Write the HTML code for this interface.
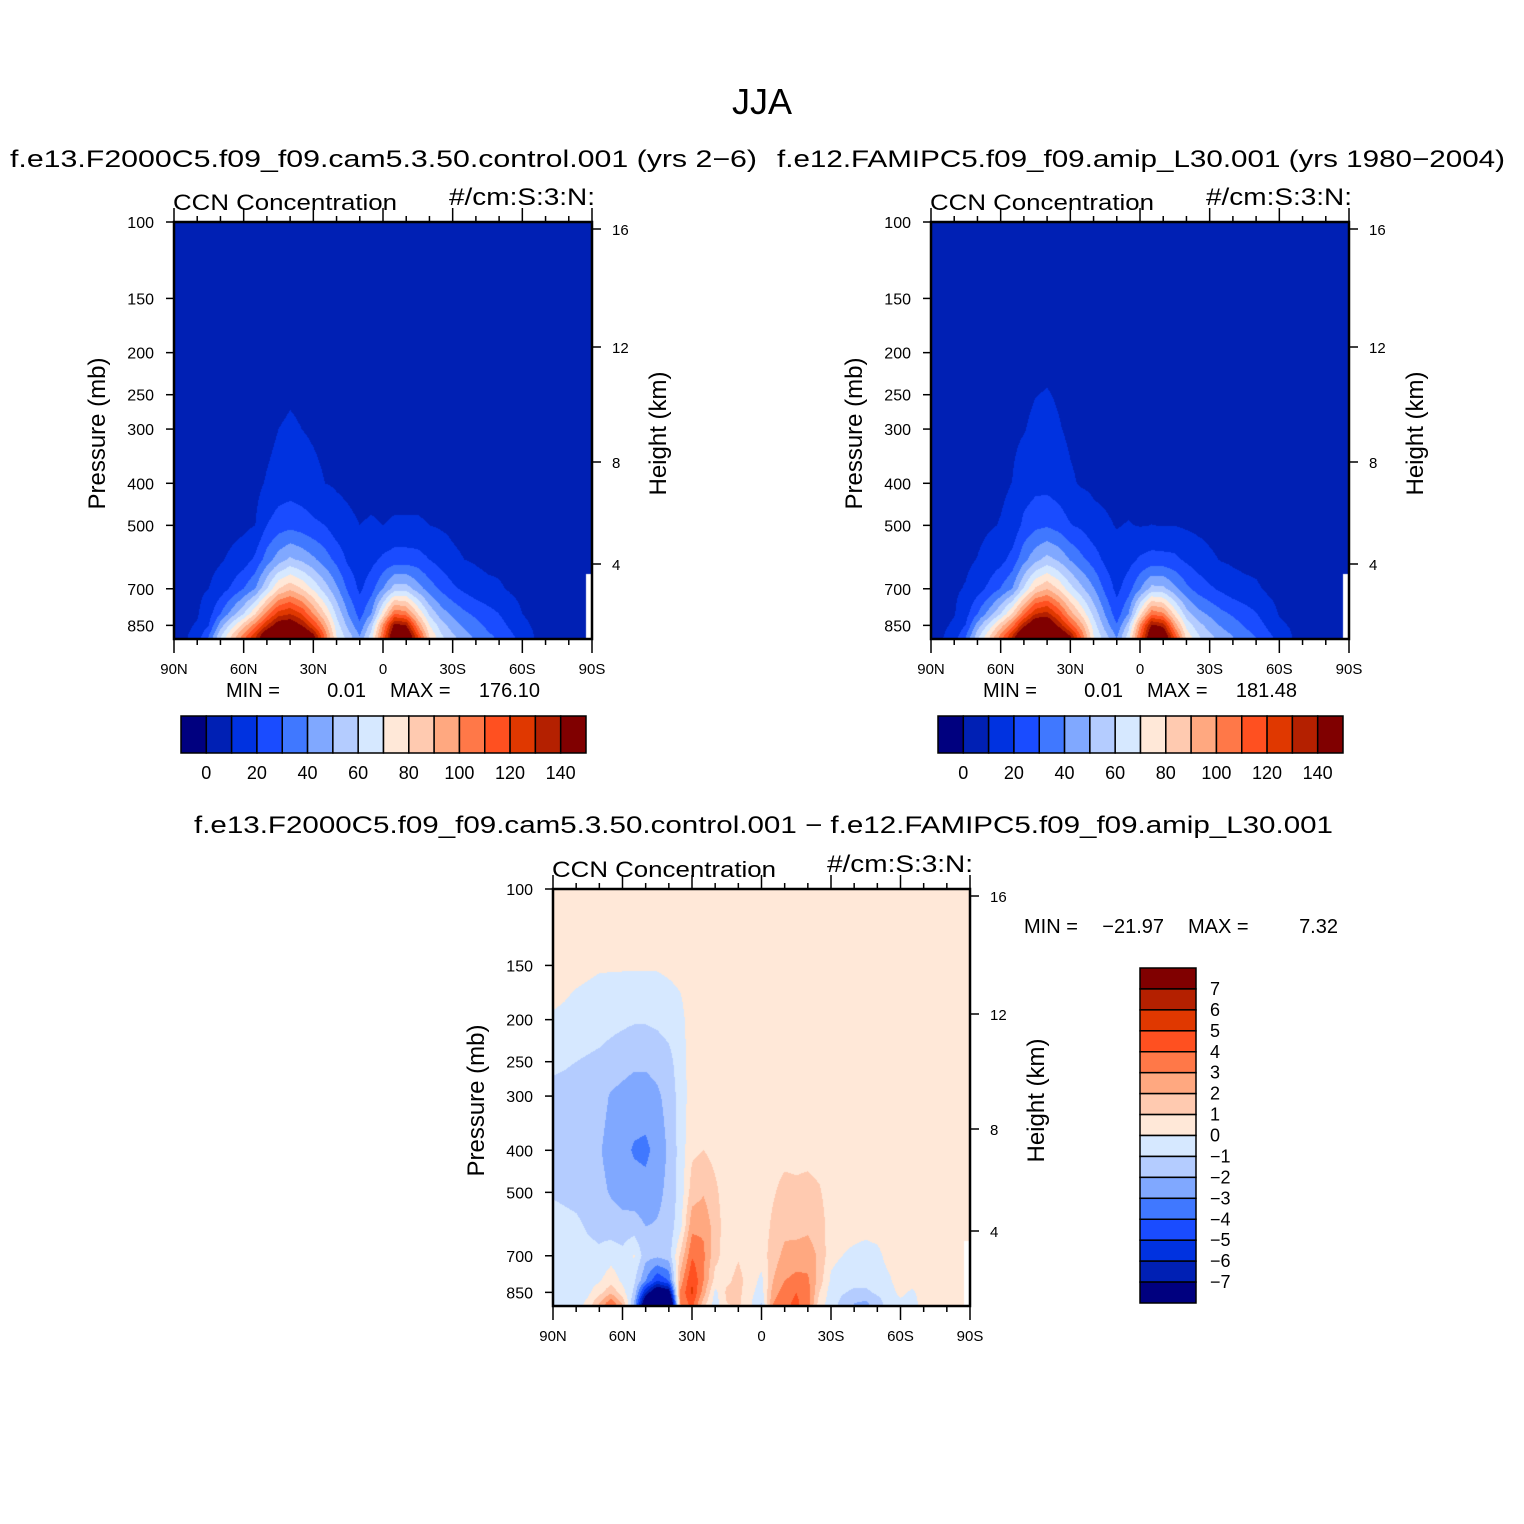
<!DOCTYPE html>
<html><head><meta charset="utf-8">
<style>
html,body{margin:0;padding:0;background:#fff;}
#wrap{position:relative;width:1524px;height:1524px;overflow:hidden;background:#fff;}
canvas{position:absolute;}
svg{position:absolute;left:0;top:0;}
text{font-family:"Liberation Sans",sans-serif;fill:#000;}
</style></head>
<body>
<div id="wrap">
<canvas id="cA" width="418" height="417" style="left:174px;top:222px"></canvas>
<canvas id="cB" width="418" height="417" style="left:931px;top:222px"></canvas>
<canvas id="cD" width="417" height="417" style="left:553px;top:889px"></canvas>
<svg id="svg" width="1524" height="1524" xmlns="http://www.w3.org/2000/svg">
<text x="762" y="114" font-size="36" text-anchor="middle">JJA</text>
<text x="10" y="167" font-size="24" textLength="747" lengthAdjust="spacingAndGlyphs">f.e13.F2000C5.f09_f09.cam5.3.50.control.001 (yrs 2−6)</text>
<text x="777" y="167" font-size="24" textLength="728" lengthAdjust="spacingAndGlyphs">f.e12.FAMIPC5.f09_f09.amip_L30.001 (yrs 1980−2004)</text>
<text x="194" y="833" font-size="24" textLength="1139" lengthAdjust="spacingAndGlyphs">f.e13.F2000C5.f09_f09.cam5.3.50.control.001 − f.e12.FAMIPC5.f09_f09.amip_L30.001</text>
<g id="axes"></g>
</svg>
</div>
<script>
// ---------- data ----------
const lats = [90,85,80,75,70,65,60,55,50,45,40,35,30,25,20,15,10,5,0,-5,-10,-15,-20,-25,-30,-35,-40,-45,-50,-55,-60,-65,-70,-75,-80,-85,-90];
const ctlLevels = [100,200,300,400,500,600,700,800,850,900,950];
// control CCN (#/cm3), one row per latitude, values at ctlLevels
const ctlField = [
[5,5,5,5,5,5,5,6,7,8,8],
[5,5,5,5,5,5,6,7,8,9,10],
[5,5,5,5,5,6,8,9,11,14,16],
[5,5,5,5,6,7,10,16,20,30,35],
[5,5,5,5,6,9,15,30,45,58,62],
[5,5,5,6,7,12,22,45,65,82,88],
[5,5,5,6,8,15,30,60,85,105,110],
[5,5,6,7,10,22,40,80,105,128,132],
[5,5,7,11,20,35,60,105,130,158,162],
[5,6,10,14,25,45,80,125,150,172,175],
[5,7,11,15,27,52,88,130,152,172,176],
[5,7,10,14,25,48,80,120,140,165,168],
[5,6,9,12,22,42,68,100,120,145,150],
[5,5,8,10,20,35,55,80,95,108,110],
[5,5,7,9,14,27,42,58,65,70,70],
[5,5,6,8,12,18,28,40,47,55,58],
[5,5,6,7,10,14,18,26,32,40,42],
[5,5,5,7,11,17,26,40,55,65,68],
[5,5,5,7,10,22,40,75,100,110,112],
[5,5,5,7,11,25,55,110,145,160,162],
[5,5,5,7,11,25,55,105,140,162,165],
[5,5,5,7,11,24,45,80,100,120,122],
[5,5,5,7,10,20,35,58,70,80,82],
[5,5,5,6,9,16,28,45,55,62,64],
[5,5,5,6,8,12,22,38,45,52,54],
[5,5,5,6,7,10,18,32,38,44,45],
[5,5,5,5,7,9,14,28,33,38,40],
[5,5,5,5,6,8,12,24,28,32,34],
[5,5,5,5,6,8,11,20,24,28,30],
[5,5,5,5,6,7,9,14,18,22,24],
[5,5,5,5,5,6,8,10,12,16,18],
[5,5,5,5,5,6,7,8,9,10,10],
[5,5,5,5,5,5,5,6,6,6,6],
[5,5,5,5,5,5,5,5,5,5,5],
[5,5,5,5,5,5,5,5,5,5,5],
[5,5,5,5,5,5,5,5,5,5,5],
[5,5,5,5,5,5,NaN,NaN,NaN,NaN,NaN]
];
const diffLevels = [100,150,200,250,300,400,500,600,700,800,850,900,950];
// control minus amip difference, one row per latitude, values at diffLevels
const diffField = [
[0.5,0.5,-0.1,-0.8,-1.3,-1.5,-1.1,-0.6,-0.5,-0.5,-0.5,-0.5,-0.5],
[0.5,0.4,-0.2,-0.9,-1.3,-1.6,-1.2,-0.7,-0.5,-0.5,-0.5,-0.5,-0.5],
[0.5,0.3,-0.4,-1.0,-1.4,-1.7,-1.3,-0.8,-0.6,-0.4,-0.4,-0.4,-0.4],
[0.5,0.2,-0.5,-1.1,-1.5,-1.8,-1.5,-1.1,-0.7,-0.4,-0.2,0.2,0.5],
[0.5,0.1,-0.6,-1.2,-1.6,-1.9,-1.7,-1.3,-0.8,-0.1,0.6,2.0,2.8],
[0.5,0.1,-0.7,-1.4,-2.1,-2.4,-2.1,-1.5,-0.4,0.6,1.8,3.8,5.2],
[0.5,0.1,-0.8,-1.6,-2.3,-2.7,-2.4,-1.6,-0.7,-0.2,0.4,1.8,2.8],
[0.5,0.1,-0.9,-1.8,-2.5,-3.1,-2.6,-1.5,0.1,-0.8,-1.2,-2.0,-3.0],
[0.5,0.1,-0.9,-1.8,-2.5,-3.2,-2.7,-2.0,-1.6,-3.0,-6.0,-9.0,-10],
[0.5,0.1,-0.8,-1.6,-2.2,-2.7,-2.3,-1.9,-1.8,-5.0,-9.0,-14,-15],
[0.5,0.2,-0.6,-1.3,-1.6,-1.8,-1.7,-1.6,-1.5,-4.0,-8.0,-12,-12],
[0.5,0.3,-0.3,-0.5,-0.6,-0.6,-0.6,-0.3,1.2,2.5,3.2,3.0,2.8],
[0.5,0.5,0.5,0.5,0.5,0.8,1.5,2.7,3.9,5.0,5.2,4.5,4.0],
[0.5,0.5,0.5,0.5,0.5,1.0,1.9,2.8,3.2,3.0,2.5,1.5,1.2],
[0.5,0.5,0.5,0.5,0.5,0.7,1.2,1.5,1.3,0.6,-0.3,-0.5,-0.5],
[0.5,0.5,0.5,0.5,0.5,0.5,0.5,0.5,0.5,0.8,1.2,1.0,0.5],
[0.5,0.5,0.5,0.5,0.5,0.5,0.5,0.5,0.9,1.3,1.3,1.2,1.0],
[0.5,0.5,0.5,0.5,0.5,0.5,0.5,0.5,0.5,0.6,0.3,0.2,0.2],
[0.5,0.5,0.5,0.5,0.5,0.5,0.5,0.5,0.5,-0.3,-0.5,-1.0,-2.5],
[0.5,0.5,0.5,0.5,0.5,0.6,0.9,1.2,1.5,2.0,2.5,3.0,3.0],
[0.5,0.5,0.5,0.5,0.5,0.7,1.3,1.7,2.3,3.0,3.5,3.8,3.8],
[0.5,0.5,0.5,0.5,0.5,0.7,1.2,1.6,2.5,3.3,4.0,4.2,4.0],
[0.5,0.5,0.5,0.5,0.5,0.7,1.3,1.8,2.5,3.2,3.5,3.5,3.0],
[0.5,0.5,0.5,0.5,0.5,0.6,1.1,1.5,1.8,1.5,1.0,0.5,0.3],
[0.5,0.5,0.5,0.5,0.5,0.5,0.5,0.5,0.3,-0.2,-0.5,-0.5,-0.5],
[0.5,0.5,0.5,0.5,0.5,0.5,0.5,0.5,0.0,-0.6,-0.9,-1.3,-1.5],
[0.5,0.5,0.5,0.5,0.5,0.5,0.5,0.5,-0.3,-0.7,-1.2,-2.0,-2.3],
[0.5,0.5,0.5,0.5,0.5,0.5,0.5,0.4,-0.5,-0.7,-1.2,-2.2,-2.3],
[0.5,0.5,0.5,0.5,0.5,0.5,0.5,0.5,-0.3,-0.6,-0.8,-1.5,-1.5],
[0.5,0.5,0.5,0.5,0.5,0.5,0.5,0.5,0.4,-0.2,-0.5,-0.5,-0.5],
[0.5,0.5,0.5,0.5,0.5,0.5,0.5,0.5,0.5,0.6,0.3,-0.3,-0.3],
[0.5,0.5,0.5,0.5,0.5,0.5,0.5,0.5,0.5,0.5,-0.2,-0.5,-0.5],
[0.5,0.5,0.5,0.5,0.5,0.5,0.5,0.5,0.5,0.5,0.5,0.5,0.5],
[0.5,0.5,0.5,0.5,0.5,0.5,0.5,0.5,0.5,0.5,0.5,0.5,0.5],
[0.5,0.5,0.5,0.5,0.5,0.5,0.5,0.5,0.5,0.5,0.5,0.5,0.5],
[0.5,0.5,0.5,0.5,0.5,0.5,0.5,0.5,0.5,0.5,0.5,0.5,0.5],
[0.5,0.5,0.5,0.5,0.5,0.5,0.5,0.5,NaN,NaN,NaN,NaN,NaN]
];
const ccnLevels = [0,10,20,30,40,50,60,70,80,90,100,110,120,130,140];
const ccnLabels = ["0","20","40","60","80","100","120","140"];
const diffContour = [-7,-6,-5,-4,-3,-2,-1,0,1,2,3,4,5,6,7];
const diffLabels = ["7","6","5","4","3","2","1","0","−1","−2","−3","−4","−5","−6","−7"];
const pTicks = [100,150,200,250,300,400,500,700,850];
const latTickLabels = ["90N","60N","30N","0","30S","60S","90S"];
const kmTicks = ["16","12","8","4"];
const ctlMin = "0.01", ctlMax = "176.10";
const amipMin = "0.01", amipMax = "181.48";
const diffMin = "−21.97", diffMax = "7.32";
const colors = ['#00007f','#0020b4','#0032e0','#1a4cff','#4078ff','#80a8ff','#b4ccff','#d6e8ff','#ffe8d8','#ffcab0','#ffa880','#ff7848','#ff5020','#e03800','#b42000','#800000'];

// ---------- scales ----------
const PX_PER_DECADE = 434;
function yOfP(p){ return (Math.log10(p)-2)*PX_PER_DECADE; }
function xOfLat(lat,W){ return (90-lat)/180*W; }

function makeSampler(field, levels){
  const lp = levels.map(Math.log10);
  return function(lat, logp){
    let c = (90-lat)/5; c = Math.max(0, Math.min(lats.length-1, c));
    let r;
    if (logp <= lp[0]) r = 0;
    else if (logp >= lp[lp.length-1]) r = lp.length-1;
    else { let k=0; while(lp[k+1] < logp) k++; r = k + (logp-lp[k])/(lp[k+1]-lp[k]); }
    const c0=Math.floor(c), c1=Math.min(c0+1,lats.length-1), r0=Math.floor(r), r1=Math.min(r0+1,lp.length-1);
    const fc=c-c0, fr=r-r0;
    const near = field[Math.round(c)][Math.round(r)];
    if (isNaN(near)) return NaN;
    const g=(a,b)=>{const v=field[a][b]; return isNaN(v)?near:v;};
    return (g(c0,r0)*(1-fc)+g(c1,r0)*fc)*(1-fr) + (g(c0,r1)*(1-fc)+g(c1,r1)*fc)*fr;
  };
}
const sampleCtl = makeSampler(ctlField, ctlLevels);
const sampleDiff = makeSampler(diffField, diffLevels);
const sampleAmip = (lat,lp)=>sampleCtl(lat,lp) - sampleDiff(lat,lp);

function hexRGB(h){return [parseInt(h.slice(1,3),16),parseInt(h.slice(3,5),16),parseInt(h.slice(5,7),16)];}
const rgb = colors.map(hexRGB);
function render(id, sampler, levels){
  const cv=document.getElementById(id), ctx=cv.getContext('2d');
  const W=cv.width,H=cv.height, img=ctx.createImageData(W,H);
  for(let y=0;y<H;y++){
    const lp=2+(y+0.5)/PX_PER_DECADE;
    for(let x=0;x<W;x++){
      const lat=90-(x+0.5)/W*180;
      const v=sampler(lat,lp);
      let col=[255,255,255];
      if(!isNaN(v)){ let k=0; while(k<levels.length && v>=levels[k]) k++; col=rgb[k]; }
      const i=(y*W+x)*4; img.data[i]=col[0];img.data[i+1]=col[1];img.data[i+2]=col[2];img.data[i+3]=255;
    }
  }
  ctx.putImageData(img,0,0);
}
render('cA', sampleCtl, ccnLevels);
render('cB', sampleAmip, ccnLevels);
render('cD', sampleDiff, diffContour);

// ---------- axes ----------
const NS='http://www.w3.org/2000/svg';
const axesG=document.getElementById('axes');
function el(tag,attrs,parent,txt){const e=document.createElementNS(NS,tag);for(const k in attrs)e.setAttribute(k,attrs[k]);if(txt!==undefined)e.textContent=txt;(parent||axesG).appendChild(e);return e;}
const kmOffsets=[7,125,240,342];

function panel(x0,y0,W,H,prefix){
  const g=el('g',{});
  
  
  const f=el('rect',{x:x0,y:y0,width:W,height:H,fill:'none',stroke:'#000','stroke-width':2.5},g);
  
  
  for(let i=0;i<=18;i++){
    const x=x0+xOfLat(90-i*10,W), len=(i%3===0)?14:6;
    el('line',{x1:x,y1:y0+H,x2:x,y2:y0+H+len,stroke:'#000','stroke-width':1.5},g);
    el('line',{x1:x,y1:y0,x2:x,y2:y0-len,stroke:'#000','stroke-width':1.5},g);
  }
  latTickLabels.forEach((t,i)=>{
    const tx=el('text',{x:x0+i*W/6,y:y0+H+35,'font-size':15,'text-anchor':'middle'},g,t);
    
    
  });
  pTicks.forEach(p=>{
    const y=y0+yOfP(p);
    el('line',{x1:x0-8,y1:y,x2:x0,y2:y,stroke:'#000','stroke-width':1.5},g);
    const tx=el('text',{x:x0-20,y:y+6,'font-size':16,'text-anchor':'end'},g,String(p));
    
    
  });
  kmTicks.forEach((t,i)=>{
    const y=y0+kmOffsets[i];
    el('line',{x1:x0+W,y1:y,x2:x0+W+9,y2:y,stroke:'#000','stroke-width':1.5},g);
    const tx=el('text',{x:x0+W+20,y:y+6,'font-size':15},g,t);
    
    
  });
  const cy=y0+H/2+3;
  const pt=el('text',{x:0,y:0,'font-size':24,'text-anchor':'middle',transform:`translate(${x0-69},${cy}) rotate(-90)`},g,'Pressure (mb)');
  
  
  const ht=el('text',{x:0,y:0,'font-size':24,'text-anchor':'middle',transform:`translate(${x0+W+74},${cy}) rotate(-90)`},g,'Height (km)');
  
  
  const c1=el('text',{x:x0-1,y:y0-12,'font-size':22,textLength:224,lengthAdjust:'spacingAndGlyphs'},g,'CCN Concentration');
  
  
  const c2=el('text',{x:x0+W-143,y:y0-17,'font-size':24,textLength:146,lengthAdjust:'spacingAndGlyphs'},g,'#/cm:S:3:N:');
  
  
}
panel(174,222,418,417,'control');
panel(931,222,418,417,'amip');
panel(553,889,417,417,'difference');

function minmax(x,y,minV,maxV,prefix){
  const g=el('g',{});
  
  
  const a=el('text',{x:x,y:y,'font-size':20},g,'MIN =');
  
  
  const b=el('text',{x:x+140,y:y,'font-size':20,'text-anchor':'end'},g,minV);
  
  
  const c=el('text',{x:x+164,y:y,'font-size':20},g,'MAX =');
  
  
  const d=el('text',{x:x+314,y:y,'font-size':20,'text-anchor':'end'},g,maxV);
  
  
}
minmax(226,697,ctlMin,ctlMax,'control');
minmax(983,697,amipMin,amipMax,'amip');
minmax(1024,933,diffMin,diffMax,'difference');

function hbar(x0,y0,W,H,prefix){
  const n=colors.length, bw=W/n;
  colors.forEach((c,i)=>{
    const r=el('rect',{x:x0+i*bw,y:y0,width:bw,height:H,fill:c,stroke:'#000','stroke-width':1.5});
    
    
  });
  ccnLabels.forEach((t,i)=>{
    const tx=el('text',{x:x0+(1+2*i)*bw,y:y0+H+26,'font-size':18,'text-anchor':'middle'},undefined,t);
    
    
  });
}
hbar(181,716,405,37,'control');
hbar(938,716,405,37,'amip');

(function vbar(){
  const x0=1140,y0=968,W=56,H=335,n=colors.length,bh=H/n;
  for(let i=0;i<n;i++){
    const r=el('rect',{x:x0,y:y0+i*bh,width:W,height:bh,fill:colors[n-1-i],stroke:'#000','stroke-width':1.5});
    
    
  }
  diffLabels.forEach((t,i)=>{
    const tx=el('text',{x:x0+W+14,y:y0+(i+1)*bh+6,'font-size':18},undefined,t);
    
    
  });
})();
</script>
</body></html>
